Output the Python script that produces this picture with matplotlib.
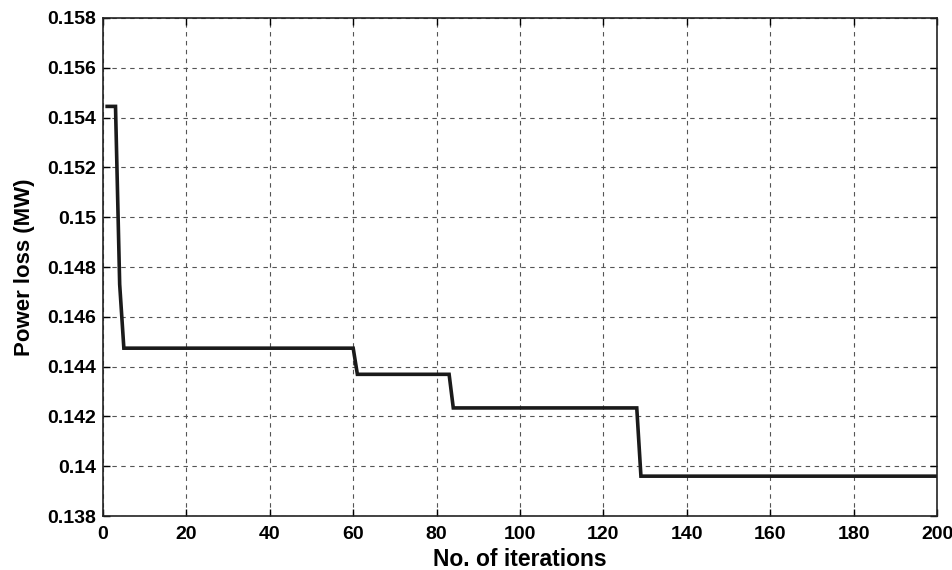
import matplotlib
matplotlib.use("Agg")
import matplotlib.pyplot as plt
from matplotlib.ticker import FuncFormatter

iterations = [1, 3, 4, 5, 60, 61, 83, 84, 128, 129, 200]
power_loss = [0.15445, 0.15445, 0.1473, 0.14474, 0.14474, 0.14369, 0.14369,
              0.14234, 0.14234, 0.13960, 0.13960]
x_ticks = [0, 20, 40, 60, 80, 100, 120, 140, 160, 180, 200]
y_ticks = [0.138, 0.14, 0.142, 0.144, 0.146, 0.148, 0.15, 0.152, 0.154, 0.156, 0.158]

plt.rcParams['font.family'] = ['Liberation Sans', 'DejaVu Sans']
plt.rcParams['font.weight'] = 'bold'

fig = plt.figure(figsize=(9.53, 5.70), dpi=100)
ax = fig.add_axes([103/953, 1 - 516/570, (937-103)/953, (516-18)/570])

ax.plot(iterations, power_loss, color='#1a1a1a', linewidth=2.6, solid_joinstyle='miter')
ax.set_xlim(0, 200)
ax.set_ylim(0.138, 0.158)
ax.set_xticks(x_ticks)
ax.set_yticks(y_ticks)
ax.yaxis.set_major_formatter(FuncFormatter(lambda v, p: ('%.3f' % v).rstrip('0')))
ax.grid(True, linestyle=(0, (4, 4)), color='#555555', linewidth=0.8)
ax.tick_params(direction='in', top=True, right=True, labelsize=14, length=5, width=1)
ax.tick_params(axis='x', pad=7)
ax.tick_params(axis='y', pad=5)
for lab in ax.get_xticklabels() + ax.get_yticklabels():
    lab.set_fontweight('bold')
for s in ax.spines.values():
    s.set_linewidth(1.2)
    s.set_color('#222222')
ax.set_xlabel('No. of iterations', fontsize=16.5, fontweight='bold', labelpad=4)
ax.set_ylabel('Power loss (MW)', fontsize=16, fontweight='bold', labelpad=9)

fig.savefig('out.png', dpi=100)
